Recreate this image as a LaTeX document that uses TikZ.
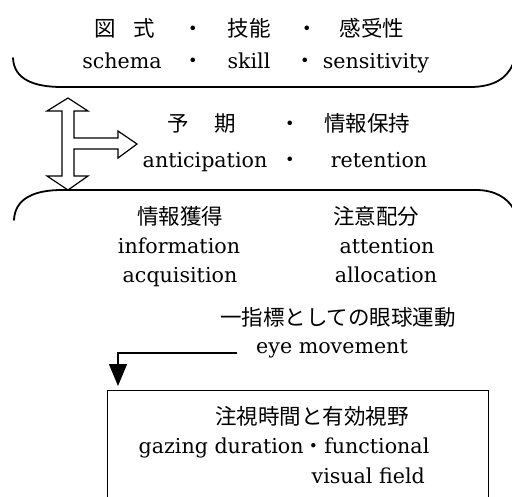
\documentclass[tikz,border=0pt]{standalone}
\usepackage{fontspec}
\setmainfont{DejaVu Serif}
\newfontfamily\jp{Noto Sans CJK JP}
\usetikzlibrary{arrows.meta}
\tikzset{
  en/.style={anchor=base, inner sep=0pt, font=\fontsize{20.6}{24}\selectfont},
  ja/.style={anchor=base, inner sep=0pt, font=\jp\fontsize{21.5}{24}\selectfont},
  bracket/.style={line width=1.8pt, line cap=round},
  blockarrow/.style={line width=1.2pt, line join=miter, fill=white},
  boxstyle/.style={draw, line width=1.4pt, inner sep=0pt},
  pointer/.style={line width=1.3pt, -{Triangle[width=18pt,length=22pt]}}
}
\begin{document}
\begin{tikzpicture}[x=1pt,y=-1pt]
\useasboundingbox (0,0) rectangle (512,496);
\clip (0,0) rectangle (512,496);
% top bracket
\draw[bracket] (13,58) .. controls (14,80) and (35,87) .. (62,87) -- (470,87) .. controls (494,87) and (507,78) .. (513,64);
\node[ja] (z1) at (125,36) {図\hspace{18pt}式};
\node[ja] (d1) at (193,36) {・};
\node[ja] (z2) at (249,36) {技能};
\node[ja] (d2) at (307,36) {・};
\node[ja] (z3) at (372,36) {感受性};
\node[en] (e1) at (122,68) {schema};
\node[ja] (d3) at (193,68) {・};
\node[en] (e2) at (249,68) {skill};
\node[ja] (d4) at (305,68) {・};
\node[en] (e3) at (376,68) {sensitivity};
% T-shaped block arrow
\draw[blockarrow] (68,98) -- (88,111) -- (74,111) -- (74,138) -- (118,138) -- (118,131)
  -- (137,144) -- (118,158) -- (118,149) -- (74,149) -- (74,176) -- (88,176) -- (68,190)
  -- (47,176) -- (62,176) -- (62,111) -- (47,111) -- cycle;
\node[ja] (m1) at (202,131) {予\hspace{26pt}期};
\node[ja] (m2) at (290,131) {・};
\node[ja] (m3) at (367,131) {情報保持};
\node[en] (m4) at (205,167) {anticipation};
\node[ja] (m5) at (290,167) {・};
\node[en] (m6) at (379,167) {retention};
% lower bracket
\draw[bracket] (14,220) .. controls (15,198) and (35,190) .. (62,190) -- (476,190) .. controls (495,190) and (507,198) .. (513,208);
\node[ja] (l1) at (180,224) {情報獲得};
\node[en] (l2) at (179,253) {information};
\node[en] (l3) at (180,282) {acquisition};
\node[ja] (r1) at (376,224) {注意配分};
\node[en] (r2) at (387,253) {attention};
\node[en] (r3) at (386,282) {allocation};
\node[ja] (i1) at (338,325) {一指標としての眼球運動};
\node[en] (i2) at (332,353) {eye movement};
% box
\node[boxstyle, anchor=north west, minimum width=381pt, minimum height=130pt] (box) at (107,390) {};
\node[ja] (b1) at (312,424) {注視時間と有効視野};
\node[en] (b2) at (284,453) {gazing duration{\jp ・}functional};
\node[en, anchor=base east] (b3) at (425,483) {visual field};
\coordinate (ps) at (237,353);
\coordinate (pe) at (118,386);
\draw[pointer] (ps) -| (pe);
\end{tikzpicture}
\end{document}
